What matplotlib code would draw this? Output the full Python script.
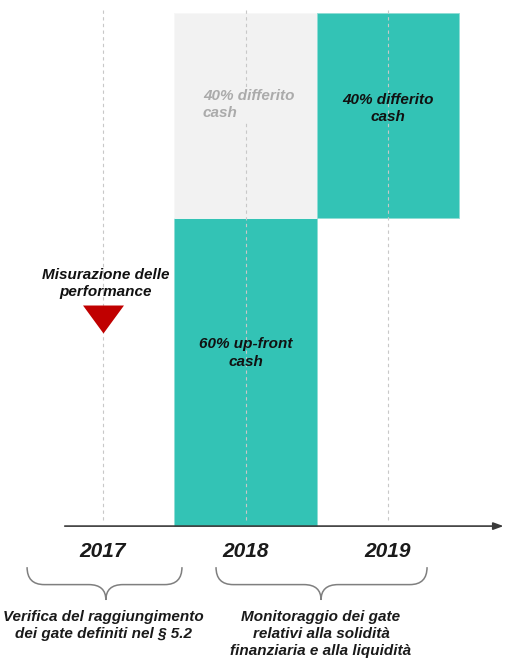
import matplotlib.pyplot as plt
from matplotlib.path import Path
from matplotlib.patches import PathPatch

# timeline data
years = [2017, 2018, 2019]
year_labels = ["2017", "2018", "2019"]
upfront_year = 2018
upfront_share = 60
deferred_years = [2018, 2019]
deferred_share = 40
deferred_colors = ["#F2F2F2", "#33C3B5"]

TEAL = "#33C3B5"
FONT = "Liberation Sans"
TXT = dict(family=FONT, weight="bold", style="italic", fontsize=11, linespacing=1.3)


def draw_brace(ax, x0, x1, xc, ytop, ymid, ytip, r=0.12):
    verts = [
        (x0, ytop), (x0, ymid), (x0 + r, ymid),
        (xc - r, ymid),
        (xc, ymid), (xc, ytip),
        (xc, ymid), (xc + r, ymid),
        (x1 - r, ymid),
        (x1, ymid), (x1, ytop),
    ]
    codes = [
        Path.MOVETO, Path.CURVE3, Path.CURVE3,
        Path.LINETO,
        Path.CURVE3, Path.CURVE3,
        Path.CURVE3, Path.CURVE3,
        Path.LINETO,
        Path.CURVE3, Path.CURVE3,
    ]
    ax.add_patch(PathPatch(Path(verts, codes), fill=False, edgecolor="#7F7F7F", lw=1.1))


fig = plt.figure(figsize=(5.06, 6.58), dpi=100)
ax = fig.add_axes([0, 0, 1, 1])
ax.set_xlim(2016.277, 2019.828)
ax.set_ylim(-25.7, 102.5)
ax.axis("off")

# bars
ax.bar(upfront_year, upfront_share, width=1, color=TEAL, edgecolor="#8FDDD5", lw=0.6, zorder=1)
ax.bar(deferred_years, [deferred_share] * 2, bottom=upfront_share, width=1,
       color=deferred_colors, edgecolor=["#F7F7F7", "#8FDDD5"], lw=0.6, zorder=1)

# dashed year guides
ax.vlines(years, 1.2, 101, colors="#C8C8C8", linestyles=(0, (3, 3)), lw=0.8, zorder=2)

# time axis
ax.annotate("", xy=(2019.83, 0), xytext=(2016.712, 0),
            arrowprops=dict(arrowstyle="-|>,head_length=0.6,head_width=0.22", color="#3A3A3A", lw=1.2),
            zorder=3)

# bar labels
ax.text(2017.70, 82.1, "40% differito\ncash", ha="left", va="center", color="#ABABAB",
        bbox=dict(boxstyle="square,pad=0.15", fc="#F2F2F2", ec="none"), zorder=4, **TXT)
ax.text(2019, 81.4, "40% differito\ncash", ha="center", va="center", color="#111111",
        zorder=4, **TXT)
ax.text(2018, 33.7, "60% up-front\ncash", ha="center", va="center", color="#111111",
        zorder=4, **TXT)

# measurement marker
ax.text(2017.02, 47.2, "Misurazione delle\nperformance", ha="center", va="center",
        color="#111111", **TXT)
ax.scatter([2017], [40.35], marker=[(-1, 0.683), (1, 0.683), (0, -0.683)], s=870,
           color="#C00000", lw=0, zorder=4)

# year labels
for yr, lab in zip(years, year_labels):
    ax.text(yr, -4.9, lab, ha="center", va="center", fontsize=15, family=FONT,
            weight="bold", style="italic", color="#1A1A1A")

# braces and captions
draw_brace(ax, 2016.467, 2017.554, 2017.02, -8.0, -11.4, -14.4)
draw_brace(ax, 2017.793, 2019.274, 2018.53, -8.0, -11.4, -14.4)
ax.text(2017, -19.4, "Verifica del raggiungimento\ndei gate definiti nel § 5.2", ha="center",
        va="center", color="#1A1A1A", **TXT)
ax.text(2018.53, -21.05, "Monitoraggio dei gate\nrelativi alla solidità\nfinanziaria e alla liquidità",
        ha="center", va="center", color="#1A1A1A", **TXT)

fig.savefig("out.png", dpi=100, facecolor="white")
